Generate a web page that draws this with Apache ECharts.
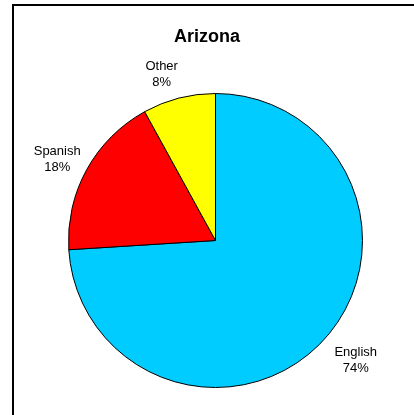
<!DOCTYPE html>
<html>
<head>
<meta charset="utf-8">
<script src="https://cdn.jsdelivr.net/npm/echarts@6/dist/echarts.min.js"></script>
<style>
  html, body { margin: 0; padding: 0; background: #fff; }
  #chart { width: 414px; height: 415px; }
</style>
</head>
<body>
<div id="chart"></div>
<script>
// Home language shares, Arizona
const categories = ['English', 'Spanish', 'Other'];
const shares = [74, 18, 8];
const sliceColors = ['#00CCFF', '#FF0000', '#FFFF00'];

// Pie geometry (pixels)
const CX = 215.5, CY = 240.5, R = 147;
const LABEL_GAP = 9;
// small per-label adjustments of the outside labels
const labelNudge = [[11, 2], [-1, 1.5], [-11, 1]];

const total = shares.reduce((a, b) => a + b, 0);

function midDirection(i) {
  let before = 0;
  for (let k = 0; k < i; k++) before += shares[k];
  const frac = (before + shares[i] / 2) / total;
  const ang = frac * 2 * Math.PI; // clockwise from 12 o'clock
  return [Math.sin(ang), -Math.cos(ang)];
}

const chart = echarts.init(document.getElementById('chart'), null, { renderer: 'canvas' });

chart.setOption({
  animation: false,
  backgroundColor: '#ffffff',
  title: {
    text: 'Arizona',
    left: 'center',
    top: 23,
    textStyle: {
      fontFamily: 'Liberation Sans, Arial, sans-serif',
      fontWeight: 'bold',
      fontSize: 18,
      color: '#000'
    }
  },
  graphic: [{
    type: 'rect',
    shape: { x: 13, y: 5, width: 420, height: 420 },
    style: { fill: 'none', stroke: '#000', lineWidth: 2 },
    silent: true
  }],
  series: [{
    type: 'pie',
    center: [CX, CY],
    radius: [0, R],
    startAngle: 90,
    clockwise: true,
    avoidLabelOverlap: false,
    data: categories.map((name, i) => ({
      name: name,
      value: shares[i],
      itemStyle: { color: sliceColors[i] }
    })),
    itemStyle: { borderColor: '#000', borderWidth: 1 },
    label: {
      show: true,
      position: 'outside',
      formatter: p => p.name + '\n' + p.value + '%',
      fontFamily: 'Liberation Sans, Arial, sans-serif',
      fontSize: 13,
      lineHeight: 16,
      color: '#000'
    },
    labelLine: { show: false },
    labelLayout: function (p) {
      const i = p.dataIndex;
      const d = midDirection(i);
      const w = p.labelRect.width, h = p.labelRect.height;
      return {
        x: CX + (R + LABEL_GAP) * d[0] + d[0] * w / 2 + labelNudge[i][0],
        y: CY + (R + LABEL_GAP) * d[1] + d[1] * h / 2 + labelNudge[i][1],
        align: 'center',
        verticalAlign: 'middle'
      };
    },
    emphasis: { disabled: true }
  }]
});
</script>
</body>
</html>
